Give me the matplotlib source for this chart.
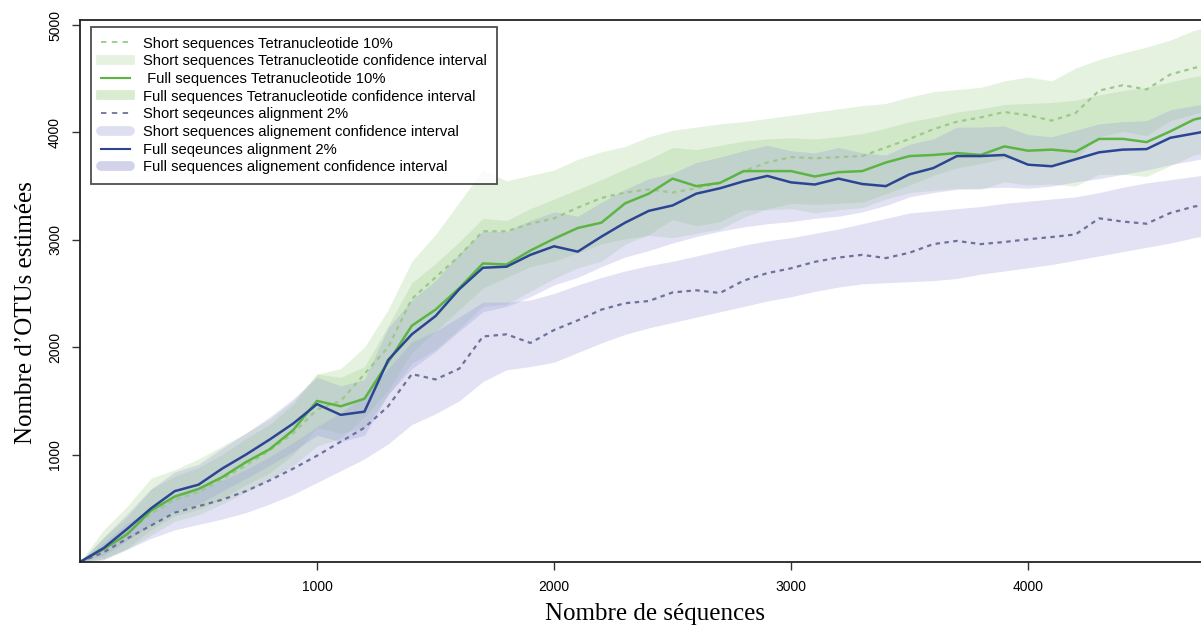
import matplotlib
matplotlib.use("Agg")
import matplotlib.pyplot as plt
from matplotlib.lines import Line2D

# nombre de sequences (axe x)
n_seq = list(range(0, 4801, 100))

# courbes moyennes
short_tetra = [0, 110, 270, 450, 580, 650, 770, 900, 1040, 1200,
               1420, 1500, 1750, 2000, 2450, 2650, 2850, 3080, 3080, 3150,
               3200, 3300, 3390, 3440, 3470, 3440, 3480, 3530, 3640, 3720,
               3770, 3760, 3770, 3780, 3860, 3940, 4030, 4100, 4140, 4190,
               4160, 4110, 4180, 4390, 4440, 4400, 4540, 4600, 4660]
full_tetra = [0, 120, 260, 480, 610, 680, 790, 930, 1050, 1230,
              1500, 1450, 1520, 1860, 2200, 2350, 2550, 2780, 2770, 2900,
              3010, 3110, 3160, 3340, 3430, 3570, 3500, 3530, 3640, 3640,
              3640, 3590, 3630, 3640, 3720, 3780, 3790, 3808, 3790, 3870,
              3830, 3840, 3820, 3940, 3940, 3910, 4010, 4120, 4170]
short_align = [0, 90, 220, 340, 460, 520, 580, 660, 760, 870,
               990, 1120, 1250, 1450, 1750, 1700, 1800, 2100, 2120, 2040,
               2160, 2250, 2350, 2410, 2430, 2510, 2530, 2505, 2620, 2690,
               2735, 2795, 2835, 2860, 2830, 2880, 2960, 2990, 2960, 2980,
               3005, 3026, 3050, 3200, 3170, 3150, 3250, 3310, 3340]
full_align = [0, 130, 310, 500, 660, 720, 870, 1000, 1140, 1290,
              1470, 1370, 1400, 1880, 2120, 2290, 2540, 2740, 2750, 2860,
              2940, 2890, 3030, 3160, 3270, 3320, 3430, 3480, 3545, 3595,
              3535, 3515, 3570, 3520, 3500, 3610, 3668, 3780, 3780, 3790,
              3700, 3685, 3750, 3815, 3840, 3845, 3950, 3990, 4030]

# intervalles de confiance
short_tetra_hi = [0, 300, 520, 780, 860, 960, 1080, 1200, 1330, 1500,
                  1750, 1800, 2000, 2350, 2800, 3050, 3350, 3650, 3550, 3600,
                  3650, 3750, 3820, 3870, 3960, 4020, 4050, 4080, 4100, 4130,
                  4160, 4190, 4220, 4250, 4270, 4330, 4380, 4400, 4420, 4480,
                  4516, 4480, 4600, 4680, 4740, 4795, 4860, 4950, 5000]
short_tetra_lo = [0, 30, 120, 250, 380, 440, 540, 650, 770, 900,
                  1080, 1150, 1350, 1600, 1950, 2150, 2350, 2550, 2650, 2750,
                  2800, 2880, 2960, 3010, 3040, 3020, 3060, 3100, 3210, 3290,
                  3340, 3330, 3340, 3350, 3430, 3510, 3600, 3670, 3710, 3760,
                  3730, 3690, 3760, 3960, 4010, 3970, 4110, 4170, 4230]
full_tetra_hi = [0, 230, 420, 680, 800, 880, 1000, 1150, 1280, 1470,
                 1750, 1720, 1820, 2200, 2600, 2780, 2980, 3200, 3180, 3290,
                 3380, 3470, 3560, 3660, 3750, 3860, 3840, 3880, 3920, 3940,
                 3950, 3940, 3960, 3990, 4040, 4100, 4140, 4190, 4220, 4260,
                 4270, 4280, 4300, 4350, 4390, 4420, 4470, 4520, 4560]
full_tetra_lo = [0, 30, 130, 300, 430, 490, 590, 720, 830, 1000,
                 1250, 1200, 1250, 1560, 1850, 1980, 2170, 2380, 2400, 2520,
                 2640, 2740, 2800, 2960, 3050, 3190, 3130, 3170, 3280, 3280,
                 3290, 3250, 3280, 3300, 3380, 3440, 3460, 3480, 3470, 3540,
                 3510, 3520, 3500, 3610, 3610, 3590, 3690, 3790, 3840]
short_align_hi = [0, 180, 360, 500, 620, 690, 760, 860, 980, 1110,
                  1260, 1390, 1550, 1800, 2050, 2150, 2280, 2420, 2420, 2440,
                  2500, 2580, 2650, 2710, 2760, 2800, 2850, 2900, 2950, 2990,
                  3020, 3060, 3100, 3150, 3200, 3250, 3270, 3290, 3310, 3340,
                  3360, 3380, 3400, 3440, 3490, 3530, 3560, 3590, 3620]
short_align_lo = [0, 20, 120, 220, 300, 350, 400, 460, 540, 630,
                  740, 850, 960, 1100, 1280, 1380, 1500, 1680, 1790, 1820,
                  1860, 1950, 2040, 2120, 2180, 2230, 2280, 2330, 2380, 2430,
                  2470, 2520, 2560, 2590, 2600, 2610, 2620, 2640, 2680, 2710,
                  2740, 2770, 2810, 2850, 2890, 2930, 2970, 3020, 3060]
full_align_hi = [0, 230, 450, 680, 840, 910, 1060, 1200, 1350, 1520,
                 1720, 1640, 1700, 2180, 2440, 2620, 2870, 3080, 3080, 3180,
                 3260, 3220, 3350, 3470, 3570, 3620, 3720, 3770, 3830, 3880,
                 3830, 3810, 3860, 3810, 3790, 3890, 3940, 4050, 4050, 4060,
                 3980, 3960, 4020, 4080, 4100, 4110, 4210, 4250, 4290]
full_align_lo = [0, 60, 200, 350, 480, 540, 660, 780, 900, 1030,
                 1180, 1120, 1180, 1560, 1800, 1960, 2150, 2330, 2380, 2470,
                 2580, 2650, 2750, 2840, 2900, 2970, 3030, 3080, 3120, 3150,
                 3170, 3200, 3220, 3260, 3320, 3400, 3440, 3470, 3480, 3490,
                 3480, 3500, 3540, 3570, 3610, 3650, 3700, 3740, 3780]

legend_labels = [
    "Short sequences Tetranucleotide 10%",
    "Short sequences Tetranucleotide confidence interval",
    " Full sequences Tetranucleotide 10%",
    "Full sequences Tetranucleotide confidence interval",
    "Short seqeunces alignment 2%",
    "Short sequences alignement confidence interval",
    "Full seqeunces alignment 2%",
    "Full sequences alignement confidence interval",
]

green_fill = (0.55, 0.78, 0.45)
lav_fill = (0.6, 0.6, 0.85)
c_short_tetra = "#9cc98a"
c_full_tetra = "#5cb543"
c_short_align = "#6e7199"
c_full_align = "#2b4593"

plt.rcParams["font.family"] = ["Liberation Sans", "DejaVu Sans"]

fig = plt.figure(figsize=(12.01, 6.31), dpi=100)
ax = fig.add_axes([80 / 1201, 69 / 631, 1150 / 1201, 542 / 631])

ax.fill_between(n_seq, short_tetra_lo, short_tetra_hi, color=green_fill, alpha=0.22, lw=0)
ax.fill_between(n_seq, full_tetra_lo, full_tetra_hi, color=green_fill, alpha=0.22, lw=0)
ax.fill_between(n_seq, short_align_lo, short_align_hi, color=lav_fill, alpha=0.28, lw=0)
ax.fill_between(n_seq, full_align_lo, full_align_hi, color=lav_fill, alpha=0.28, lw=0)

ax.plot(n_seq, short_tetra, color=c_short_tetra, lw=1.6, ls=(0, (2, 2)))
ax.plot(n_seq, full_tetra, color=c_full_tetra, lw=1.8)
ax.plot(n_seq, short_align, color=c_short_align, lw=1.6, ls=(0, (2, 2)))
ax.plot(n_seq, full_align, color=c_full_align, lw=1.8)

ax.set_xlim(0, 4852)
ax.set_ylim(0, 5047)
ax.set_xticks([1000, 2000, 3000, 4000])
ax.set_yticks([1000, 2000, 3000, 4000, 5000])
ax.tick_params(axis="both", length=6, width=1, color="#333333", labelsize=10)
ax.tick_params(axis="x", pad=7)
ax.tick_params(axis="y", pad=7)
plt.setp(ax.get_yticklabels(), rotation=90, va="center")
for s in ax.spines.values():
    s.set_linewidth(1.3)
    s.set_color("#222222")

ax.set_xlabel("Nombre de séquences", family="Liberation Serif", fontsize=18)
ax.set_ylabel("Nombre d\u2019OTUs estimées", family="Liberation Serif", fontsize=18)
ax.xaxis.set_label_coords(0.5, -0.075)
ax.yaxis.set_label_coords(-0.037, 0.46)

handles = [
    Line2D([], [], color=c_short_tetra, lw=1.3, ls=(0, (3, 3))),
    Line2D([], [], color="#e6f2e0", lw=7),
    Line2D([], [], color=c_full_tetra, lw=1.5),
    Line2D([], [], color="#d8ecd0", lw=7),
    Line2D([], [], color=c_short_align, lw=1.3, ls=(0, (3, 3))),
    Line2D([], [], color="#dedff1", lw=7, solid_capstyle="round"),
    Line2D([], [], color=c_full_align, lw=1.5),
    Line2D([], [], color="#d2d3ea", lw=7, solid_capstyle="round"),
]
leg = fig.legend(handles, legend_labels, loc="upper left",
                 bbox_to_anchor=(91 / 1201, 1 - 27 / 631), borderaxespad=0,
                 fontsize=10.6, frameon=True, fancybox=False, edgecolor="#222222",
                 labelspacing=0.25, handlelength=2.0, handletextpad=0.9,
                 borderpad=0.65)
leg.get_frame().set_linewidth(1.3)

fig.savefig("out.png", dpi=100)
